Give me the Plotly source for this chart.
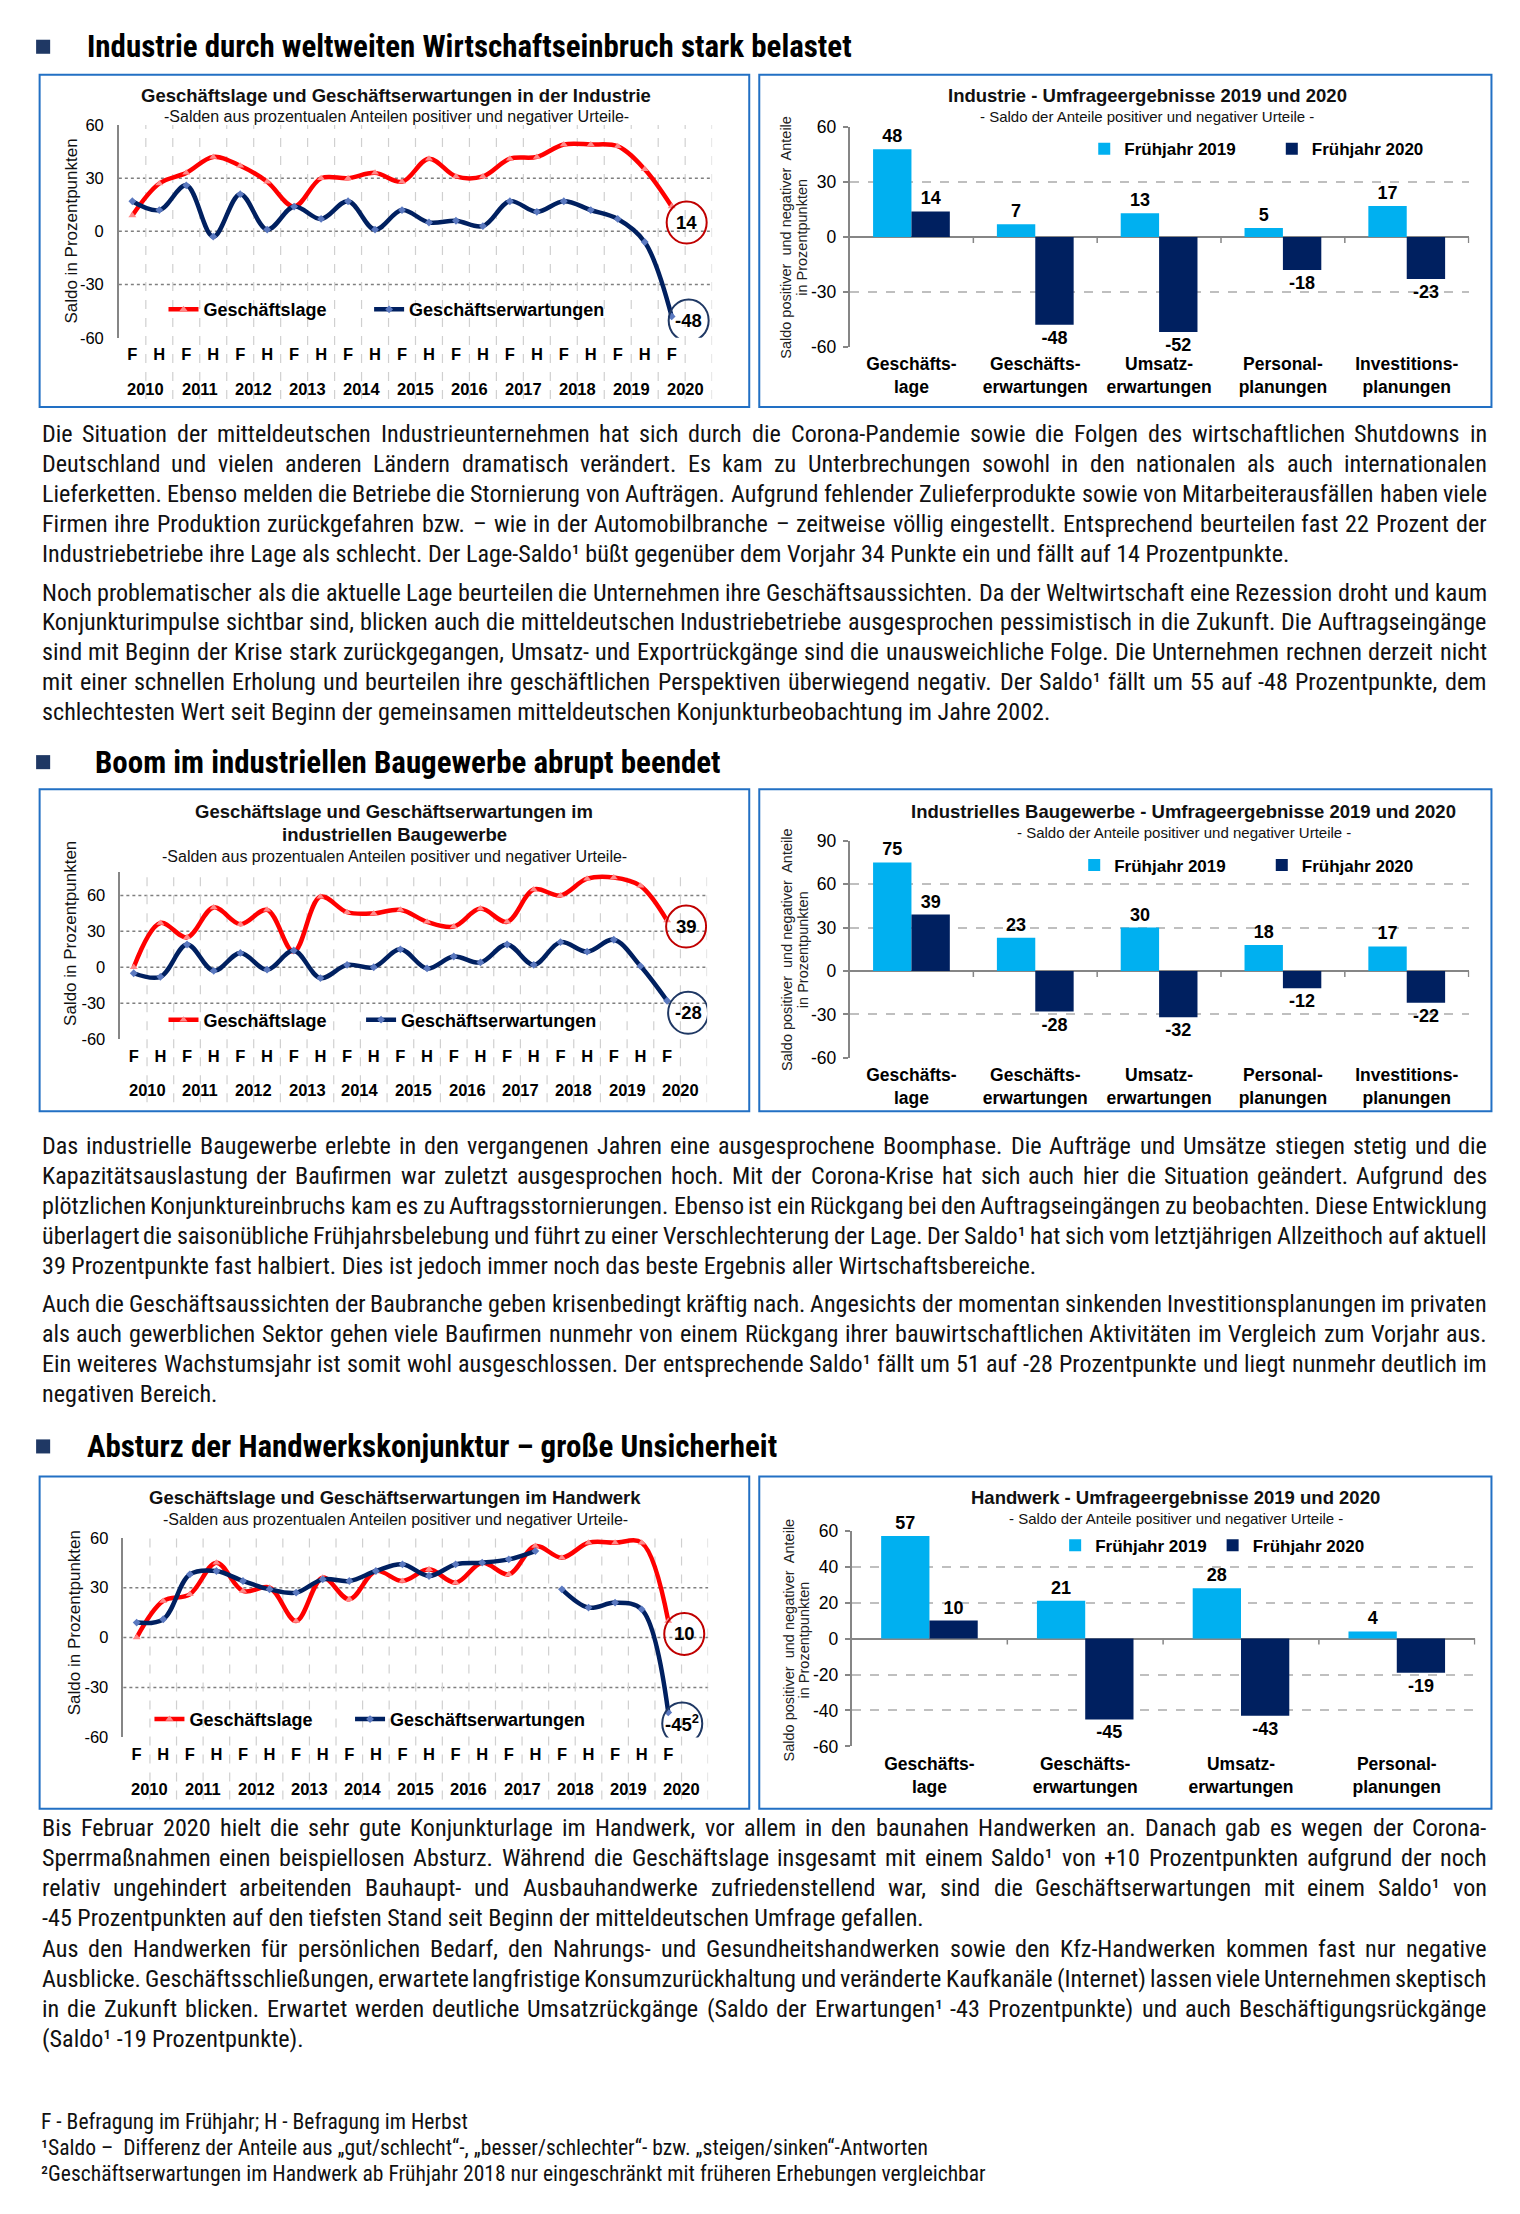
import struct
import subprocess
import plotly.graph_objects as go

# ---------------- data ----------------
YEARS = [str(y) for y in range(2010, 2021)]
HALVES = ["F", "H"]
AXIS_CATS = [f"{h} {y}" for y in YEARS for h in HALVES]   # incl. empty "H 2020"
PERIODS = AXIS_CATS[:21]                                    # F 2010 ... F 2020

# Industrie
ind_lage = [9, 27, 33, 42, 37, 28, 14, 30, 30, 33, 28, 41, 31, 31, 41, 42, 49, 49, 48, 35, 14]
ind_erw = [17, 12, 26, -3, 21, 1, 14, 7, 17, 1, 12, 5, 6, 3, 17, 11, 17, 12, 7, -6, -48]
# Industrielles Baugewerbe
bau_lage = [0, 37, 25, 50, 36, 48, 13, 59, 46, 45, 48, 38, 34, 49, 38, 65, 60, 74, 75, 68, 39]
bau_erw = [-5, -8, 19, -3, 12, -2, 14, -9, 2, 0, 15, -1, 9, 4, 19, 2, 21, 13, 23, 1, -28]
# Handwerk
hw_lage = [0, 22, 26, 45, 28, 30, 10, 36, 23, 40, 34, 41, 33, 45, 38, 55, 48, 57, 57, 57, 10]
hw_erw = [9, 11, 38, 40, 34, 29, 27, 35, 34, 40, 44, 37, 44, 45, 47, 52, 29, 18, 21, 17, -45]
HW_ERW_BREAK = 16   # ab Frühjahr 2018 nur eingeschränkt vergleichbar

BAR_CATS = ["Geschäfts-<br>lage", "Geschäfts-<br>erwartungen", "Umsatz-<br>erwartungen",
            "Personal-<br>planungen", "Investitions-<br>planungen"]
ind_f2019 = [48, 7, 13, 5, 17]
ind_f2020 = [14, -48, -52, -18, -23]
bau_f2019 = [75, 23, 30, 18, 17]
bau_f2020 = [39, -28, -32, -12, -22]
hw_f2019 = [57, 21, 28, 4]
hw_f2020 = [10, -45, -43, -19]

TICKS_30 = [-60, -30, 0, 30, 60]
TICKS_30_90 = [-60, -30, 0, 30, 60, 90]
TICKS_20 = [-60, -40, -20, 0, 20, 40, 60]

# ---------------- text ----------------
HEAD1 = "Industrie durch weltweiten Wirtschaftseinbruch stark belastet"
HEAD2 = "Boom im industriellen Baugewerbe abrupt beendet"
HEAD3 = "Absturz der Handwerkskonjunktur – große Unsicherheit"

P1 = [
    "Die Situation der mitteldeutschen Industrieunternehmen hat sich durch die Corona-Pandemie sowie die Folgen des wirtschaftlichen Shutdowns in",
    "Deutschland und vielen anderen Ländern dramatisch verändert. Es kam zu Unterbrechungen sowohl in den nationalen als auch internationalen",
    "Lieferketten. Ebenso melden die Betriebe die Stornierung von Aufträgen. Aufgrund fehlender Zulieferprodukte sowie von Mitarbeiterausfällen haben viele",
    "Firmen ihre Produktion zurückgefahren bzw. – wie in der Automobilbranche – zeitweise völlig eingestellt. Entsprechend beurteilen fast 22 Prozent der",
    "Industriebetriebe ihre Lage als schlecht. Der Lage-Saldo¹ büßt gegenüber dem Vorjahr 34 Punkte ein und fällt auf 14 Prozentpunkte.",
]
P2 = [
    "Noch problematischer als die aktuelle Lage beurteilen die Unternehmen ihre Geschäftsaussichten. Da der Weltwirtschaft eine Rezession droht und kaum",
    "Konjunkturimpulse sichtbar sind, blicken auch die mitteldeutschen Industriebetriebe ausgesprochen pessimistisch in die Zukunft. Die Auftragseingänge",
    "sind mit Beginn der Krise stark zurückgegangen, Umsatz- und Exportrückgänge sind die unausweichliche Folge. Die Unternehmen rechnen derzeit nicht",
    "mit einer schnellen Erholung und beurteilen ihre geschäftlichen Perspektiven überwiegend negativ. Der Saldo¹ fällt um 55 auf -48 Prozentpunkte, dem",
    "schlechtesten Wert seit Beginn der gemeinsamen mitteldeutschen Konjunkturbeobachtung im Jahre 2002.",
]
P3 = [
    "Das industrielle Baugewerbe erlebte in den vergangenen Jahren eine ausgesprochene Boomphase. Die Aufträge und Umsätze stiegen stetig und die",
    "Kapazitätsauslastung der Baufirmen war zuletzt ausgesprochen hoch. Mit der Corona-Krise hat sich auch hier die Situation geändert. Aufgrund des",
    "plötzlichen Konjunktureinbruchs kam es zu Auftragsstornierungen. Ebenso ist ein Rückgang bei den Auftragseingängen zu beobachten. Diese Entwicklung",
    "überlagert die saisonübliche Frühjahrsbelebung und führt zu einer Verschlechterung der Lage. Der Saldo¹ hat sich vom letztjährigen Allzeithoch auf aktuell",
    "39 Prozentpunkte fast halbiert. Dies ist jedoch immer noch das beste Ergebnis aller Wirtschaftsbereiche.",
]
P4 = [
    "Auch die Geschäftsaussichten der Baubranche geben krisenbedingt kräftig nach. Angesichts der momentan sinkenden Investitionsplanungen im privaten",
    "als auch gewerblichen Sektor gehen viele Baufirmen nunmehr von einem Rückgang ihrer bauwirtschaftlichen Aktivitäten im Vergleich zum Vorjahr aus.",
    "Ein weiteres Wachstumsjahr ist somit wohl ausgeschlossen. Der entsprechende Saldo¹ fällt um 51 auf -28 Prozentpunkte und liegt nunmehr deutlich im",
    "negativen Bereich.",
]
P5 = [
    "Bis Februar 2020 hielt die sehr gute Konjunkturlage im Handwerk, vor allem in den baunahen Handwerken an. Danach gab es wegen der Corona-",
    "Sperrmaßnahmen einen beispiellosen Absturz. Während die Geschäftslage insgesamt mit einem Saldo¹ von +10 Prozentpunkten aufgrund der noch",
    "relativ ungehindert arbeitenden Bauhaupt- und Ausbauhandwerke zufriedenstellend war, sind die Geschäftserwartungen mit einem Saldo¹ von",
    "-45 Prozentpunkten auf den tiefsten Stand seit Beginn der mitteldeutschen Umfrage gefallen.",
]
P6 = [
    "Aus den Handwerken für persönlichen Bedarf, den Nahrungs- und Gesundheitshandwerken sowie den Kfz-Handwerken kommen fast nur negative",
    "Ausblicke. Geschäftsschließungen, erwartete langfristige Konsumzurückhaltung und veränderte Kaufkanäle (Internet) lassen viele Unternehmen skeptisch",
    "in die Zukunft blicken. Erwartet werden deutliche Umsatzrückgänge (Saldo der Erwartungen¹ -43 Prozentpunkte) und auch Beschäftigungsrückgänge",
    "(Saldo¹ -19 Prozentpunkte).",
]
FOOTNOTES = [
    "F - Befragung im Frühjahr; H - Befragung im Herbst",
    "¹Saldo –\u00a0 Differenz der Anteile aus „gut/schlecht“-, „besser/schlechter“- bzw. „steigen/sinken“-Antworten",
    "²Geschäftserwartungen im Handwerk ab Frühjahr 2018 nur eingeschränkt mit früheren Erhebungen vergleichbar",
]

# ---------------- page geometry / fonts ----------------
W, H = 1520, 2214
VS, VO = 1.0125, -10.5          # vertical calibration of the photographed page
HS = 1.003                      # horizontal calibration
def X(px): return HS * px / W
def Y(py): return 1 - (VS * py + VO) / H

def run(cmd):
    try:
        return subprocess.run(cmd, capture_output=True, text=True, timeout=20).stdout
    except Exception:
        return ""

FAMILIES = set()
for ln in run(["fc-list", ":", "family"]).splitlines():
    for f in ln.split(","):
        FAMILIES.add(f.strip())

def load_metrics(path):
    """advance widths (in em) from a TrueType/OpenType file"""
    try:
        with open(path, "rb") as fh:
            data = fh.read()
        base = 0
        if data[:4] == b"ttcf":
            base = struct.unpack(">I", data[12:16])[0]
        nt = struct.unpack(">H", data[base + 4: base + 6])[0]
        tables = {}
        for i in range(nt):
            rec = base + 12 + 16 * i
            tables[data[rec:rec + 4].decode("latin1")] = struct.unpack(">I", data[rec + 8: rec + 12])[0]
        hd = tables["head"]; upem = struct.unpack(">H", data[hd + 18: hd + 20])[0]
        hh = tables["hhea"]; nhm = struct.unpack(">H", data[hh + 34: hh + 36])[0]
        hm = tables["hmtx"]
        adv = struct.unpack(f">{nhm * 2}H", data[hm: hm + 4 * nhm])[0::2]
        cm = tables["cmap"]
        n = struct.unpack(">H", data[cm + 2: cm + 4])[0]
        sub = None
        for i in range(n):
            pid, eid, so = struct.unpack(">HHI", data[cm + 4 + 8 * i: cm + 12 + 8 * i])
            fmt = struct.unpack(">H", data[cm + so: cm + so + 2])[0]
            if fmt == 4 and ((pid == 3 and eid == 1) or pid == 0):
                sub = cm + so
                break
        seg2 = struct.unpack(">H", data[sub + 6: sub + 8])[0]; seg = seg2 // 2
        o_end = sub + 14
        ends = struct.unpack(f">{seg}H", data[o_end: o_end + seg2])
        o_st = o_end + seg2 + 2
        starts = struct.unpack(f">{seg}H", data[o_st: o_st + seg2])
        o_de = o_st + seg2
        deltas = struct.unpack(f">{seg}H", data[o_de: o_de + seg2])
        o_ro = o_de + seg2
        ros = struct.unpack(f">{seg}H", data[o_ro: o_ro + seg2])

        def gid(c):
            for i in range(seg):
                if ends[i] >= c:
                    if starts[i] > c:
                        return 0
                    if ros[i] == 0:
                        return (c + deltas[i]) & 0xFFFF
                    addr = o_ro + 2 * i + ros[i] + 2 * (c - starts[i])
                    g = struct.unpack(">H", data[addr: addr + 2])[0]
                    return (g + deltas[i]) & 0xFFFF if g else 0
            return 0
        cache = {}

        def wch(ch):
            if ch not in cache:
                g = gid(ord(ch))
                cache[ch] = adv[min(g, nhm - 1)] / upem
            return cache[ch]
        a = wch("a")
        if not (0.2 < a < 0.8):
            return None
        return wch
    except Exception:
        return None

# Arial (Liberation Sans) advance widths /1000 as fallback
AR = {' ': 278, '"': 355, '(': 333, ')': 333, '+': 584, ',': 278, '-': 333, '.': 278, '/': 278, ';': 278,
      'A': 667, 'B': 667, 'C': 722, 'D': 722, 'E': 667, 'F': 611, 'G': 778, 'H': 722, 'I': 278,
      'J': 500, 'K': 667, 'L': 556, 'M': 833, 'N': 722, 'O': 778, 'P': 667, 'Q': 778, 'R': 722,
      'S': 667, 'T': 611, 'U': 722, 'V': 667, 'W': 944, 'X': 667, 'Y': 667, 'Z': 611,
      'a': 556, 'b': 556, 'c': 500, 'd': 556, 'e': 556, 'f': 278, 'g': 556, 'h': 556, 'i': 222,
      'j': 222, 'k': 500, 'l': 222, 'm': 833, 'n': 556, 'o': 556, 'p': 556, 'q': 556, 'r': 333,
      's': 500, 't': 278, 'u': 556, 'v': 500, 'w': 722, 'x': 500, 'y': 500, 'z': 500,
      'ä': 556, 'ö': 556, 'ü': 556, 'Ä': 667, 'Ö': 778, 'Ü': 722, 'ß': 611, '–': 556,
      '„': 333, '“': 333, '”': 333, '¹': 333, '²': 333, '\u00a0': 278}
def ar_w(ch): return AR.get(ch, 556) / 1000.0

SANS = "Liberation Sans, Arial, sans-serif"
NARROW_FAM, w_reg, w_bold = None, None, None
for cand in ["Liberation Sans Narrow", "Nimbus Sans Narrow", "Arial Narrow", "Roboto Condensed",
             "Archivo Narrow", "PT Sans Narrow", "Open Sans Condensed", "Asap Condensed"]:
    if cand in FAMILIES:
        wr = load_metrics(run(["fc-match", "-f", "%{file}", f"{cand}:style=Regular"]).strip())
        if wr:
            NARROW_FAM, w_reg = cand, wr
            w_bold = load_metrics(run(["fc-match", "-f", "%{file}", f"{cand}:bold"]).strip()) or wr
            break
if NARROW_FAM:
    NARROW = f"{NARROW_FAM}, Liberation Sans, sans-serif"
else:
    NARROW, w_reg, w_bold = SANS, ar_w, ar_w

def wem(s, fn=None):
    fn = fn or w_reg
    return sum(fn(c) for c in s)

RED = "#FF0000"
RED_MK = "#FF8A8A"
NAVY = "#002060"
NAVY_MK = "#5B79C0"
LIGHT = "#00B0F0"
DARK = "#002060"
BOX = "#2270C4"
GRAYAX = "#868686"
TXT = "#111111"

fig = go.Figure()
shapes = []
ann = []
legends = {}
layout_axes = {}

def text(x, y, s, size, family=SANS, bold=False, color=TXT, xanchor="center", angle=0):
    ann.append(dict(x=X(x), y=Y(y), xref="paper", yref="paper", text=s, showarrow=False,
                    xanchor=xanchor, yanchor="middle", textangle=angle, borderpad=0, borderwidth=0,
                    font=dict(family=family, size=size, color=color, weight="bold" if bold else "normal")))

def new_legend(x, y, size):
    name = "legend" if not legends else f"legend{len(legends) + 1}"
    legends[name] = dict(orientation="h", x=X(x), y=Y(y), xanchor="left", yanchor="middle",
                         bgcolor="rgba(0,0,0,0)", font=dict(family=SANS, size=size, color="black"),
                         tracegroupgap=0)
    return name

def axkeys(i):
    s = "" if i == 1 else str(i)
    return "x" + s, "y" + s, "xaxis" + s, "yaxis" + s

# ---------------- line charts ----------------
def line_chart(i, g, lage, erw, brk=None):
    xa, ya, xk, yk = axkeys(i)
    (lrx, lbx), ly = g["legend"]
    leg_r = new_legend(lrx, ly, 18)
    leg_b = new_legend(lbx, ly, 18)
    fig.add_trace(go.Scatter(x=PERIODS, y=lage, xaxis=xa, yaxis=ya, legend=leg_r,
                             name="<b>Geschäftslage</b>", mode="lines+markers",
                             line=dict(color=RED, width=4.5, shape="spline", smoothing=1.0),
                             marker=dict(symbol="triangle-up", size=7, color=RED_MK),
                             cliponaxis=False, hoverinfo="skip"))
    segs = [(0, len(erw))] if brk is None else [(0, brk), (brk, len(erw))]
    for j, (a, b) in enumerate(segs):
        fig.add_trace(go.Scatter(x=PERIODS[a:b], y=erw[a:b], xaxis=xa, yaxis=ya, legend=leg_b,
                                 name="<b>Geschäftserwartungen</b>", mode="lines+markers",
                                 showlegend=(j == 0),
                                 line=dict(color=NAVY, width=4.5, shape="spline", smoothing=1.0),
                                 marker=dict(symbol="diamond", size=6, color=NAVY_MK),
                                 cliponaxis=False, hoverinfo="skip"))
    x0, x1 = g["x"]; y0, y1 = g["y"]
    lo, hi = g["yr"]
    layout_axes[xk] = dict(domain=[X(x0), X(x1)], anchor=ya, type="category",
                           categoryorder="array", categoryarray=AXIS_CATS,
                           range=[-0.5, len(AXIS_CATS) - 0.5], tickmode="array",
                           tickvals=PERIODS, ticktext=[p.split()[0] for p in PERIODS],
                           showgrid=False, showline=False, zeroline=False, ticks="",
                           ticklabelstandoff=5,
                           tickfont=dict(family=SANS, size=16.5, color="black", weight="bold"))
    layout_axes[yk] = dict(domain=[Y(y1), Y(y0)], anchor=xa, range=[lo, hi], tickmode="array",
                           tickvals=g["ticks"], ticktext=[str(t) for t in g["ticks"]],
                           showgrid=False, zeroline=False, showline=True,
                           linecolor=GRAYAX, linewidth=1.5, ticks="", ticklabelstandoff=10,
                           tickfont=dict(family=SANS, size=16.5, color="black"))
    for t in g["ticks"]:
        if lo < t < hi:
            shapes.append(dict(type="line", xref=f"{xa} domain", yref=ya, x0=0, x1=1, y0=t, y1=t,
                               line=dict(color="#7F7F7F", width=1.5, dash="dot"), layer="below"))
    ext = (g["vbottom"] - y1) / (y1 - y0)
    for k in range(1, len(AXIS_CATS) + 1):
        shapes.append(dict(type="line", xref=xa, yref=f"{ya} domain", x0=k - 0.5, x1=k - 0.5,
                           y0=-ext, y1=1, line=dict(color="#D0D0D0", width=1.2, dash="dash"),
                           layer="below"))
    for n, yr in enumerate(YEARS):
        ann.append(dict(x=2 * n + 0.5, y=Y(g["years_y"]), xref=xa, yref="paper", text=f"<b>{yr}</b>",
                        showarrow=False, yanchor="middle",
                        font=dict(family=SANS, size=16.5, color="black")))
    for s, ty in zip(g["title"], g["title_y"]):
        text(g["cx"], ty, f"<b>{s}</b>", 18.5)
    text(g["cx"], g["sub_y"], "-Salden aus prozentualen Anteilen positiver und negativer Urteile-", 16)
    text(g["ytitle"][0], g["ytitle"][1], "Saldo in Prozentpunkten", 17, angle=-90)
    for series, (dx, dy), col, suffix in [(lage, g["c_lage"], "#C00000", ""),
                                           (erw, g["c_erw"], "#1F3864", g.get("erw_suffix", ""))]:
        v = series[-1]
        rx, ry = 20, 21
        shapes.append(dict(type="circle", xref=xa, yref=ya, xsizemode="pixel", ysizemode="pixel",
                           xanchor=PERIODS[-1], yanchor=v, x0=dx - rx, x1=dx + rx,
                           y0=-dy - ry, y1=-dy + ry, line=dict(color=col, width=2)))
        ann.append(dict(x=PERIODS[-1], y=v, xref=xa, yref=ya, xshift=dx, yshift=-dy,
                        text=f"<b>{v}{suffix}</b>", showarrow=False,
                        font=dict(family=SANS, size=18.5, color="black")))

# ---------------- bar charts ----------------
def bar_chart(i, g, cats, v19, v20):
    xa, ya, xk, yk = axkeys(i)
    (l1, l2), ly = g["legend"]
    for vals, col, nm, lx in [(v19, LIGHT, "<b>Frühjahr 2019</b>", l1), (v20, DARK, "<b>Frühjahr 2020</b>", l2)]:
        fig.add_trace(go.Bar(x=cats, y=vals, xaxis=xa, yaxis=ya, legend=new_legend(lx, ly, 17), name=nm,
                             marker=dict(color=col, line=dict(width=0)),
                             text=[str(v) for v in vals], texttemplate="%{text}", textposition="outside",
                             constraintext="none", cliponaxis=False, hoverinfo="skip",
                             textfont=dict(family=SANS, size=18, color="black", weight="bold")))
    x0, x1 = g["x"]; y0, y1 = g["y"]
    lo, hi = g["yr"]
    layout_axes[xk] = dict(domain=[X(x0), X(x1)], anchor=ya, type="category", showgrid=False,
                           showline=False, zeroline=False, ticks="", ticklabelstandoff=5,
                           tickfont=dict(family=SANS, size=17.5, color="black", weight="bold"))
    layout_axes[yk] = dict(domain=[Y(y1), Y(y0)], anchor=xa, range=[lo, hi], tickmode="array",
                           tickvals=g["ticks"], ticktext=[str(t) for t in g["ticks"]],
                           showgrid=True, gridcolor="#BFBFBF", gridwidth=1.5,
                           griddash="dash", zeroline=True, zerolinecolor=GRAYAX, zerolinewidth=2,
                           showline=True, linecolor=GRAYAX, linewidth=1.5, ticks="outside",
                           ticklen=5, tickcolor=GRAYAX, tickwidth=1.5, ticklabelstandoff=3,
                           tickfont=dict(family=SANS, size=17.5, color="black"))
    for k in range(1, len(cats) + 1):
        shapes.append(dict(type="line", xref=xa, yref=ya, ysizemode="pixel", yanchor=0,
                           x0=k - 0.5, x1=k - 0.5, y0=0, y1=-6,
                           line=dict(color=GRAYAX, width=1.5)))
    text(g["cx"], g["title_y"], f"<b>{g['title']}</b>", 18.5)
    text(g["cx"], g["sub_y"], "- Saldo der Anteile positiver und negativer Urteile -", 15)
    (tx1, tx2), ty = g["ytitle"]
    text(tx1, ty, "Saldo positiver\u00a0 und negativer\u00a0 Anteile", 14.5, angle=-90, color="#222")
    text(tx2, ty, "in Prozentpunkten", 14.5, angle=-90, color="#222")

LC1 = dict(x=(118.5, 710), y=(125, 337), yr=(-60, 60), ticks=TICKS_30,
           title=["Geschäftslage und Geschäftserwartungen in der Industrie"], title_y=[96], sub_y=117,
           cx=395, ytitle=(71, 231), years_y=388, vbottom=398, legend=((163, 368), 309),
           c_lage=(15, 16), c_erw=(17, 4))
LC2 = dict(x=(120, 705), y=(869, 1036), yr=(-60, 80), ticks=TICKS_30,
           title=["Geschäftslage und Geschäftserwartungen im", "industriellen Baugewerbe"],
           title_y=[809, 832], sub_y=854, cx=393, ytitle=(71, 931), years_y=1087, vbottom=1099,
           legend=((163, 360), 1017), c_lage=(19, 6), c_erw=(21, 12))
LC3 = dict(x=(123, 706), y=(1533, 1732), yr=(-60, 60), ticks=TICKS_30,
           title=["Geschäftslage und Geschäftserwartungen im Handwerk"], title_y=[1493], sub_y=1515,
           cx=394, ytitle=(74, 1618), years_y=1783, vbottom=1794, legend=((149, 349), 1714),
           c_lage=(16, 13), c_erw=(14, 11), erw_suffix="<sup>2</sup>")

BC1 = dict(x=(847, 1465), y=(127.3, 346), yr=(-60, 60), ticks=TICKS_30,
           title="Industrie - Umfrageergebnisse 2019 und 2020", title_y=96, sub_y=117, cx=1144,
           ytitle=((784, 800), 237), legend=((1081, 1268), 149))
BC2 = dict(x=(847, 1465), y=(838.3, 1054.7), yr=(-60, 90), ticks=TICKS_30_90,
           title="Industrielles Baugewerbe - Umfrageergebnisse 2019 und 2020", title_y=809, sub_y=830,
           cx=1180, ytitle=((784, 800), 947), legend=((1071, 1258), 863))
BC3 = dict(x=(849, 1471), y=(1526, 1741), yr=(-60, 60), ticks=TICKS_20,
           title="Handwerk - Umfrageergebnisse 2019 und 2020", title_y=1493, sub_y=1514, cx=1172,
           ytitle=((787, 802), 1635), legend=((1052, 1209), 1541))

line_chart(1, LC1, ind_lage, ind_erw)
bar_chart(2, BC1, BAR_CATS, ind_f2019, ind_f2020)
line_chart(3, LC2, bau_lage, bau_erw)
bar_chart(4, BC2, BAR_CATS, bau_f2019, bau_f2020)
line_chart(5, LC3, hw_lage, hw_erw, brk=HW_ERW_BREAK)
bar_chart(6, BC3, BAR_CATS[:len(hw_f2019)], hw_f2019, hw_f2020)

# ---------------- boxes & headings ----------------
for (top, bot) in [(75, 406), (787, 1108), (1472, 1803)]:
    for (l, r) in [(39.5, 747), (757, 1487)]:
        shapes.append(dict(type="rect", xref="paper", yref="paper", x0=X(l), x1=X(r), y0=Y(bot), y1=Y(top),
                           line=dict(color=BOX, width=2), fillcolor="rgba(0,0,0,0)", layer="below"))

HEAD_SIZE = min(31.0, 0.98 * 765 / wem(HEAD1, w_bold))
for s, hx, hy in [(HEAD1, 87, 47), (HEAD2, 95, 760), (HEAD3, 87, 1442)]:
    shapes.append(dict(type="rect", xref="paper", yref="paper", x0=X(36), x1=X(50), y0=Y(hy + 7), y1=Y(hy - 7),
                       line=dict(width=0), fillcolor="#1F3864"))
    text(hx, hy, s, HEAD_SIZE, family=NARROW, bold=True, color="black", xanchor="left")

# ---------------- justified body text ----------------
LINE_X0, LINE_X1 = 41.5, 1482.5
LINE_W = (LINE_X1 - LINE_X0) * HS
PITCH = 29.8
PARAS = [(P1, 433), (P2, 591), (P3, 1143), (P4, 1300), (P5, 1822.7), (P6, 1942.7)]
SPACE = w_reg(" ")
def fit_size(line, min_gap=0.75):
    words = line.split(" ")
    return LINE_W / (sum(wem(w) for w in words) + (len(words) - 1) * SPACE * min_gap)
S_FIT = min(fit_size(l) for p, _ in PARAS for l in p[:-1])
BODY = min(25.3, S_FIT, 1253 * HS / wem(P1[-1]))
for lines, ystart in PARAS:
    for n, line in enumerate(lines):
        yy = ystart + n * PITCH
        if n == len(lines) - 1:
            text(LINE_X0, yy, line, BODY, family=NARROW, xanchor="left")
        else:
            words = line.split(" ")
            widths = [wem(w) * BODY for w in words]
            gap = (LINE_W - sum(widths)) / (len(words) - 1)
            xx = LINE_X0 * HS
            for w, wpx in zip(words, widths):
                text(xx / HS, yy, w, BODY, family=NARROW, xanchor="left")
                xx += wpx + gap

FN_SIZE = min(24.0, (984 - 41) * HS / wem(FOOTNOTES[2]))
for s, fy in zip(FOOTNOTES, [2115, 2141, 2167]):
    text(41, fy, s, FN_SIZE, family=NARROW, xanchor="left")

fig.update_layout(width=W, height=H, margin=dict(l=0, r=0, t=0, b=0), autosize=False,
                  paper_bgcolor="white", plot_bgcolor="rgba(0,0,0,0)", hovermode=False,
                  showlegend=True, barmode="group", bargap=0.38, bargroupgap=0.0,
                  shapes=shapes, annotations=ann, **layout_axes, **legends)

PAGE_FIX = ("document.documentElement.style.margin='0';document.documentElement.style.overflow='hidden';"
            "document.body.style.margin='0';document.body.style.padding='0';document.body.style.overflow='hidden';"
            "var gd=document.getElementById('{plot_id}');gd.style.position='absolute';"
            "gd.style.left='0px';gd.style.top='0px';")
fig.write_html("out.html", config={"displayModeBar": False}, post_script=PAGE_FIX)
